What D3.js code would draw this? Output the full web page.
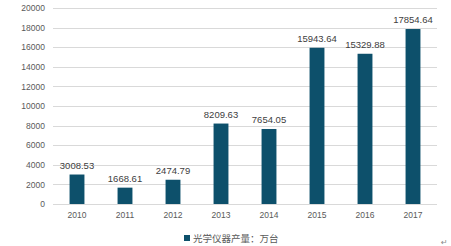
<!DOCTYPE html>
<html lang="zh">
<head>
<meta charset="utf-8">
<title>光学仪器产量</title>
<script src="https://cdn.jsdelivr.net/npm/d3@7"></script>
<style>
body { margin: 0; background: #fff; }
text { font-family: "Noto Sans CJK SC", "DejaVu Sans", sans-serif; }
</style>
</head>
<body>
<script>
var years = ["2010", "2011", "2012", "2013", "2014", "2015", "2016", "2017"];
var output = [3008.53, 1668.61, 2474.79, 8209.63, 7654.05, 15943.64, 15329.88, 17854.64];
var yTicks = [0, 2000, 4000, 6000, 8000, 10000, 12000, 14000, 16000, 18000, 20000];
var seriesName = "光学仪器产量：万台";

var w = 451, h = 246;
var plotLeft = 53, plotRight = 437, plotTop = 8, plotBottom = 204;
var barColor = "#0d506b";

var svg = d3.select("body").append("svg").attr("width", w).attr("height", h);

var x = d3.scaleBand().domain(years).range([plotLeft, plotRight]).paddingInner(0.69).paddingOuter(0.345);
var y = d3.scaleLinear().domain([0, 20000]).range([plotBottom, plotTop]);

// gridlines
svg.append("g").selectAll("line").data(yTicks).enter().append("line")
    .attr("x1", plotLeft).attr("x2", plotRight)
    .attr("y1", function(d) { return Math.round(y(d)) + 0.5; })
    .attr("y2", function(d) { return Math.round(y(d)) + 0.5; })
    .attr("stroke", "#d9d9d9").attr("stroke-width", 1);

// y axis
var yaxis = d3.axisLeft(y).tickValues(yTicks).tickFormat(d3.format("d")).tickSize(0).tickPadding(8);
var gy = svg.append("g").attr("transform", "translate(" + plotLeft + ",0)").call(yaxis);
gy.select(".domain").remove();
gy.selectAll("text").attr("fill", "#595959").style("font-size", "8.5px")
    .style("font-family", "Liberation Sans, sans-serif");

// x axis
var xaxis = d3.axisBottom(x).tickSize(0).tickPadding(8);
var gx = svg.append("g").attr("transform", "translate(0," + plotBottom + ")").call(xaxis);
gx.select(".domain").remove();
gx.selectAll("text").attr("fill", "#595959").style("font-size", "8.5px")
    .style("font-family", "Liberation Sans, sans-serif");

// bars
svg.selectAll("rect.bar").data(output).enter().append("rect")
    .attr("class", "bar")
    .attr("x", function(d, i) { return x(years[i]); })
    .attr("y", function(d) { return y(d); })
    .attr("width", x.bandwidth())
    .attr("height", function(d) { return plotBottom - y(d); })
    .attr("fill", barColor);

// value labels
svg.selectAll("text.val").data(output).enter().append("text")
    .attr("class", "val")
    .attr("x", function(d, i) { return x(years[i]) + x.bandwidth() / 2; })
    .attr("y", function(d) { return y(d) - 6; })
    .attr("text-anchor", "middle")
    .attr("fill", "#404040")
    .style("font-size", "9.5px")
    .style("font-family", "Liberation Sans, sans-serif")
    .text(function(d) { return d.toFixed(2); });

// legend
svg.append("rect").attr("x", 184).attr("y", 235).attr("width", 6).attr("height", 6).attr("fill", barColor);
svg.append("text").attr("x", 193).attr("y", 242)
    .attr("fill", "#595959").style("font-size", "9.5px")
    .text(seriesName);

svg.append("text").attr("x", 441).attr("y", 245).attr("fill", "#888").style("font-size", "8px").text("↵");
</script>
</body>
</html>
